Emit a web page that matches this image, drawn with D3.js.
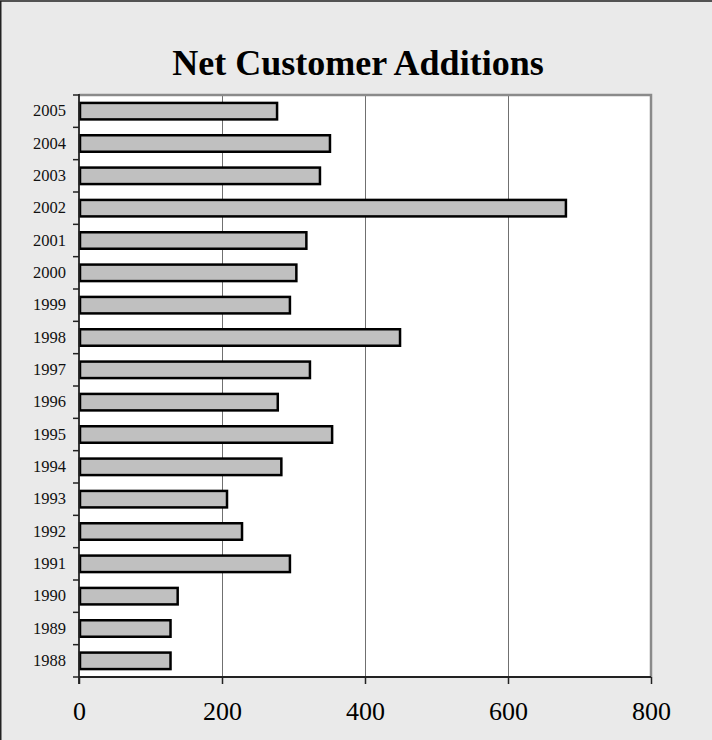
<!DOCTYPE html>
<html>
<head>
<meta charset="utf-8">
<script src="https://cdn.jsdelivr.net/npm/d3@7"></script>
<style>
  html, body { margin: 0; padding: 0; background: #eaeaea; }
  svg { display: block; }
</style>
</head>
<body>
<svg id="chart" width="712" height="740"></svg>
<script>
const years = ["1988","1989","1990","1991","1992","1993","1994","1995","1996","1997","1998","1999","2000","2001","2002","2003","2004","2005"];
const additions = [128,128,138,295,228,207,283,354,278,323,449,295,304,318,681,337,351,277];
const xTicks = [0,200,400,600,800];
const title = "Net Customer Additions";

const svg = d3.select("#chart");
const W = 712, H = 740;
const m = {left: 79, right: 61, top: 95, bottom: 63};
const pw = W - m.left - m.right, ph = H - m.top - m.bottom;

svg.append("rect").attr("x", 0).attr("y", 0).attr("width", W).attr("height", H).attr("fill", "#eaeaea");
svg.append("rect").attr("x", 0.75).attr("y", 1).attr("width", W + 10).attr("height", H + 10)
  .attr("fill", "none").attr("stroke", "#222").attr("stroke-width", 1.5);

svg.append("text").attr("x", 358).attr("y", 75).attr("text-anchor", "middle")
  .attr("font-family", "'Liberation Serif', 'Times New Roman', serif")
  .attr("font-weight", "bold").attr("font-size", 36).attr("fill", "#000").text(title);

const x = d3.scaleLinear().domain([0, 800]).range([m.left, m.left + pw]);
const y = d3.scaleBand().domain(years.slice().reverse()).range([m.top, m.top + ph])
  .paddingInner(0.49).paddingOuter(0.245);

// plot area
svg.append("rect").attr("x", m.left).attr("y", m.top).attr("width", pw).attr("height", ph).attr("fill", "#fff");

// gridlines
svg.append("g").selectAll("line").data(xTicks.filter(d => d > 0 && d < 800)).join("line")
  .attr("x1", d => x(d) + 0.5).attr("x2", d => x(d) + 0.5)
  .attr("y1", m.top).attr("y2", m.top + ph)
  .attr("stroke", "#707070").attr("stroke-width", 1);

// top and right border
svg.append("path")
  .attr("d", `M${m.left},${m.top} H${m.left + pw} V${m.top + ph}`)
  .attr("fill", "none").attr("stroke", "#8a8a8a").attr("stroke-width", 2.5);

// bars
const data = years.map((yr, i) => ({year: yr, value: additions[i]}));
svg.append("g").selectAll("rect").data(data).join("rect")
  .attr("x", x(0) + 1)
  .attr("y", d => y(d.year))
  .attr("width", d => x(d.value) - x(0) - 1)
  .attr("height", y.bandwidth())
  .attr("fill", "#c0c0c0").attr("stroke", "#000").attr("stroke-width", 2.5);

// y axis
const yAxis = d3.axisLeft(y).tickSize(0).tickPadding(13);
const gy = svg.append("g").attr("transform", `translate(${m.left},0)`).call(yAxis);
gy.select(".domain").remove();
gy.selectAll("text").attr("font-family", "'Liberation Serif', 'Times New Roman', serif")
  .attr("font-size", 16.5).attr("fill", "#111");
// boundary ticks
const bounds = d3.range(years.length + 1).map(i => m.top + i * y.step());
svg.append("g").selectAll("line").data(bounds).join("line")
  .attr("x1", m.left - 6).attr("x2", m.left).attr("y1", d => d).attr("y2", d => d)
  .attr("stroke", "#222").attr("stroke-width", 1.5);
svg.append("line").attr("x1", m.left).attr("x2", m.left).attr("y1", m.top - 1).attr("y2", m.top + ph + 7)
  .attr("stroke", "#222").attr("stroke-width", 1.8);

// x axis
const xAxis = d3.axisBottom(x).tickValues(xTicks).tickSize(7).tickPadding(18).tickFormat(d3.format("d"));
const gx = svg.append("g").attr("transform", `translate(0,${m.top + ph})`).call(xAxis);
gx.select(".domain").attr("stroke", "#222").attr("stroke-width", 2).attr("d", `M${m.left},0H${m.left + pw}`);
gx.selectAll(".tick line").attr("stroke", "#222").attr("stroke-width", 1.5);
gx.selectAll("text").attr("font-family", "'Liberation Serif', 'Times New Roman', serif")
  .attr("font-size", 26).attr("fill", "#000");
</script>
</body>
</html>
